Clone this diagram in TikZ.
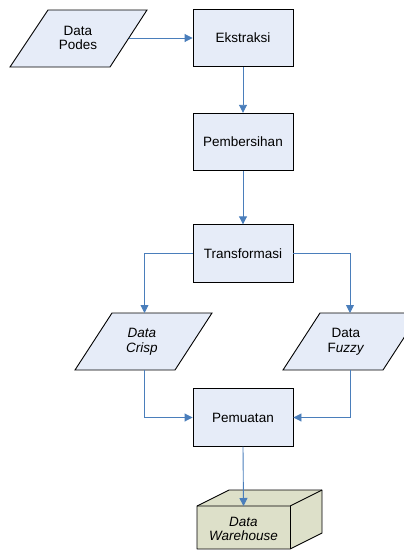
\documentclass[tikz,border=0pt]{standalone}
\usepackage{fontspec}
\setmainfont{Liberation Sans}
\usetikzlibrary{arrows.meta}
\definecolor{boxfill}{HTML}{E6ECF8}
\definecolor{cubefill}{HTML}{DDE0C9}
\definecolor{arrowblue}{HTML}{4A7EBB}
\tikzset{
  procbox/.style={draw=black, fill=boxfill, line width=0.9pt, minimum width=100pt, minimum height=57.5pt, inner sep=0pt},
  iobox/.style={draw=black, fill=boxfill, line width=0.9pt},
  lbl/.style={align=center, font=\fontsize{13.5}{14.5}\selectfont, inner sep=0pt},
  flow/.style={draw=arrowblue, line width=0.9pt, -{Triangle[length=8pt,width=8pt]}},
}
\begin{document}
\begin{tikzpicture}[x=1pt,y=-1pt]
\useasboundingbox (0,0) rectangle (404,550);
% Data Podes
\draw[iobox] (48,10) -- (147,10) -- (110,67) -- (10,67) -- cycle;
\node[lbl] (podes) at (78,38) {Data\\Podes};
\coordinate (podesE) at (128.5,38);
% process boxes
\node[procbox, lbl] (ekstraksi) at (243,38) {Ekstraksi};
\node[procbox, lbl] (pembersihan) at (243,142) {Pembersihan};
\node[procbox, lbl] (transformasi) at (243,253.5) {Transformasi};
\node[procbox, lbl] (pemuatan) at (243,417.5) {Pemuatan};
% Data Crisp
\draw[iobox] (112,313) -- (212,313) -- (175,370) -- (75,370) -- cycle;
\node[lbl] (crisp) at (142,341.5) {\textit{Data}\\\textit{Crisp}};
\coordinate (crispN) at (144.5,313);
\coordinate (crispS) at (144.5,370);
% Data Fuzzy
\draw[iobox] (320,313) -- (420,313) -- (383,370) -- (283,370) -- cycle;
\node[lbl] (fuzzy) at (346,341.5) {Data\\F\textit{uzzy}};
\coordinate (fuzzyN) at (350,313);
\coordinate (fuzzyS) at (350,370);
% Data Warehouse cube
\draw[draw=black, fill=cubefill, line width=0.9pt, line join=round]
  (197,506) -- (229,490) -- (322,490) -- (322,533) -- (290,549) -- (197,549) -- cycle;
\draw[black, line width=0.9pt, line join=round] (197,506) -- (290,506) -- (322,490);
\draw[black, line width=0.9pt] (290,506) -- (290,549);
\node[lbl] (warehouse) at (243.5,529) {\textit{Data}\\\textit{Warehouse}};
\coordinate (cubeN) at (243.5,506);
% connectors
\draw[flow] (podesE) -- (ekstraksi.west);
\draw[flow] (ekstraksi.south) -- (pembersihan.north);
\draw[flow] (pembersihan.south) -- (transformasi.north);
\draw[flow] (transformasi.west) -| (crispN);
\draw[flow] (transformasi.east) -| (fuzzyN);
\draw[flow] (crispS) |- (pemuatan.west);
\draw[flow] (fuzzyS) |- (pemuatan.east);
\draw[flow] (pemuatan.south) -- (cubeN);
\end{tikzpicture}
\end{document}
